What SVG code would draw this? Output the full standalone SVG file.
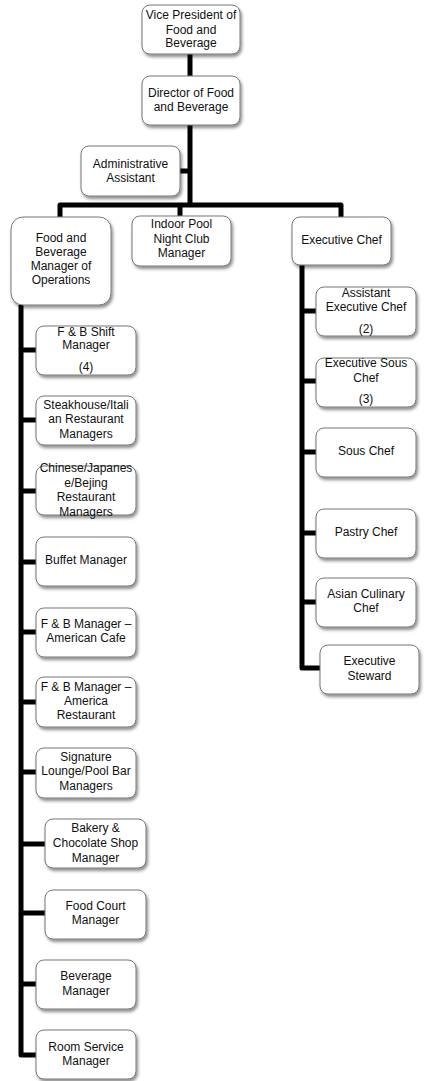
<svg xmlns="http://www.w3.org/2000/svg" width="424" height="1081" viewBox="0 0 424 1081">
<defs>
<filter id="sh" x="-10%" y="-10%" width="130%" height="140%">
<feDropShadow dx="1.5" dy="2.5" stdDeviation="1.5" flood-color="#000" flood-opacity="0.45"/>
</filter>
</defs>
<style>
.b{fill:#fff;stroke:#777;stroke-width:1;filter:url(#sh)}
.t{font-family:"Liberation Sans",Arial,sans-serif;font-size:12px;fill:#111;text-anchor:middle}
.c{fill:none;stroke:#000;stroke-width:5;stroke-linejoin:round;stroke-linecap:butt}
</style>
<g id="connectors">
<path class="c" d="M190,54V76"/>
<path class="c" d="M190,125V205"/>
<path class="c" d="M180,171H190"/>
<path class="c" d="M60,217V205H341V217"/>
<path class="c" d="M180,205V216"/>
<path class="c" d="M21,305V1055H36"/>
<path class="c" d="M21,350H36M21,420H36M21,491H36M21,562H36M21,632H36M21,702H36M21,772H36M21,844H45M21,913H45M21,984H36"/>
<path class="c" d="M302,265V668H320"/>
<path class="c" d="M302,311H316M302,381H316M302,452H316M302,533H316M302,602H316"/>
</g>
<g id="vp"><rect class="b" x="142" y="5" width="98" height="49" rx="8"/><text class="t"><tspan x="191" y="19">Vice President of</tspan><tspan x="191" y="34">Food and</tspan><tspan x="191" y="47">Beverage</tspan></text></g>
<g id="director"><rect class="b" x="142" y="76" width="98" height="49" rx="8"/><text class="t"><tspan x="191" y="97">Director of Food</tspan><tspan x="191" y="111">and Beverage</tspan></text></g>
<g id="admin"><rect class="b" x="81" y="146" width="99" height="50" rx="8"/><text class="t"><tspan x="130.5" y="168">Administrative</tspan><tspan x="130.5" y="182">Assistant</tspan></text></g>
<g id="fbops"><rect class="b" x="11" y="217" width="100" height="88" rx="12"/><text class="t"><tspan x="61" y="242">Food and</tspan><tspan x="61" y="256">Beverage</tspan><tspan x="61" y="270">Manager of</tspan><tspan x="61" y="284">Operations</tspan></text></g>
<g id="pool"><rect class="b" x="132" y="216" width="99" height="50" rx="8"/><text class="t"><tspan x="181.5" y="228">Indoor Pool</tspan><tspan x="181.5" y="243">Night Club</tspan><tspan x="181.5" y="257">Manager</tspan></text></g>
<g id="execchef"><rect class="b" x="292" y="217" width="99" height="48" rx="8"/><text class="t"><tspan x="341.5" y="244">Executive Chef</tspan></text></g>
<g id="asstchef"><rect class="b" x="316" y="287" width="100" height="49" rx="8"/><text class="t"><tspan x="366" y="297">Assistant</tspan><tspan x="366" y="311">Executive Chef</tspan><tspan x="366" y="333">(2)</tspan></text></g>
<g id="soussexec"><rect class="b" x="316" y="358" width="100" height="49" rx="8"/><text class="t"><tspan x="366" y="367">Executive Sous</tspan><tspan x="366" y="382">Chef</tspan><tspan x="366" y="403">(3)</tspan></text></g>
<g id="sous"><rect class="b" x="316" y="428" width="100" height="49" rx="8"/><text class="t"><tspan x="366" y="455">Sous Chef</tspan></text></g>
<g id="pastry"><rect class="b" x="316" y="509" width="100" height="49" rx="8"/><text class="t"><tspan x="366" y="536">Pastry Chef</tspan></text></g>
<g id="asian"><rect class="b" x="316" y="578" width="100" height="49" rx="8"/><text class="t"><tspan x="366" y="598">Asian Culinary</tspan><tspan x="366" y="612">Chef</tspan></text></g>
<g id="steward"><rect class="b" x="320" y="645" width="99" height="49" rx="8"/><text class="t"><tspan x="369.5" y="665">Executive</tspan><tspan x="369.5" y="680">Steward</tspan></text></g>
<g id="shift"><rect class="b" x="36" y="326" width="100" height="49" rx="8"/><text class="t"><tspan x="86" y="336">F &amp; B Shift</tspan><tspan x="86" y="349">Manager</tspan><tspan x="86" y="371">(4)</tspan></text></g>
<g id="steak"><rect class="b" x="36" y="396" width="100" height="49" rx="8"/><text class="t"><tspan x="86" y="409">Steakhouse/Itali</tspan><tspan x="86" y="423">an Restaurant</tspan><tspan x="86" y="438">Managers</tspan></text></g>
<g id="chinese"><rect class="b" x="36" y="466" width="100" height="49" rx="8"/><text class="t"><tspan x="86" y="472">Chinese/Japanes</tspan><tspan x="86" y="487">e/Bejing</tspan><tspan x="86" y="501">Restaurant</tspan><tspan x="86" y="516">Managers</tspan></text></g>
<g id="buffet"><rect class="b" x="36" y="537" width="100" height="49" rx="8"/><text class="t"><tspan x="86" y="564">Buffet Manager</tspan></text></g>
<g id="cafe"><rect class="b" x="36" y="608" width="100" height="49" rx="8"/><text class="t"><tspan x="86" y="628">F &amp; B Manager –</tspan><tspan x="86" y="642">American Cafe</tspan></text></g>
<g id="america"><rect class="b" x="36" y="677" width="100" height="50" rx="8"/><text class="t"><tspan x="86" y="691">F &amp; B Manager –</tspan><tspan x="86" y="705">America</tspan><tspan x="86" y="719">Restaurant</tspan></text></g>
<g id="signature"><rect class="b" x="36" y="748" width="100" height="50" rx="8"/><text class="t"><tspan x="86" y="761">Signature</tspan><tspan x="86" y="775">Lounge/Pool Bar</tspan><tspan x="86" y="790">Managers</tspan></text></g>
<g id="bakery"><rect class="b" x="45" y="819" width="101" height="49" rx="8"/><text class="t"><tspan x="95.5" y="832">Bakery &amp;</tspan><tspan x="95.5" y="847">Chocolate Shop</tspan><tspan x="95.5" y="862">Manager</tspan></text></g>
<g id="foodcourt"><rect class="b" x="45" y="890" width="101" height="49" rx="8"/><text class="t"><tspan x="95.5" y="910">Food Court</tspan><tspan x="95.5" y="924">Manager</tspan></text></g>
<g id="beverage"><rect class="b" x="36" y="960" width="100" height="49" rx="8"/><text class="t"><tspan x="86" y="980">Beverage</tspan><tspan x="86" y="995">Manager</tspan></text></g>
<g id="roomservice"><rect class="b" x="36" y="1030" width="100" height="49" rx="8"/><text class="t"><tspan x="86" y="1051">Room Service</tspan><tspan x="86" y="1065">Manager</tspan></text></g>
</svg>
